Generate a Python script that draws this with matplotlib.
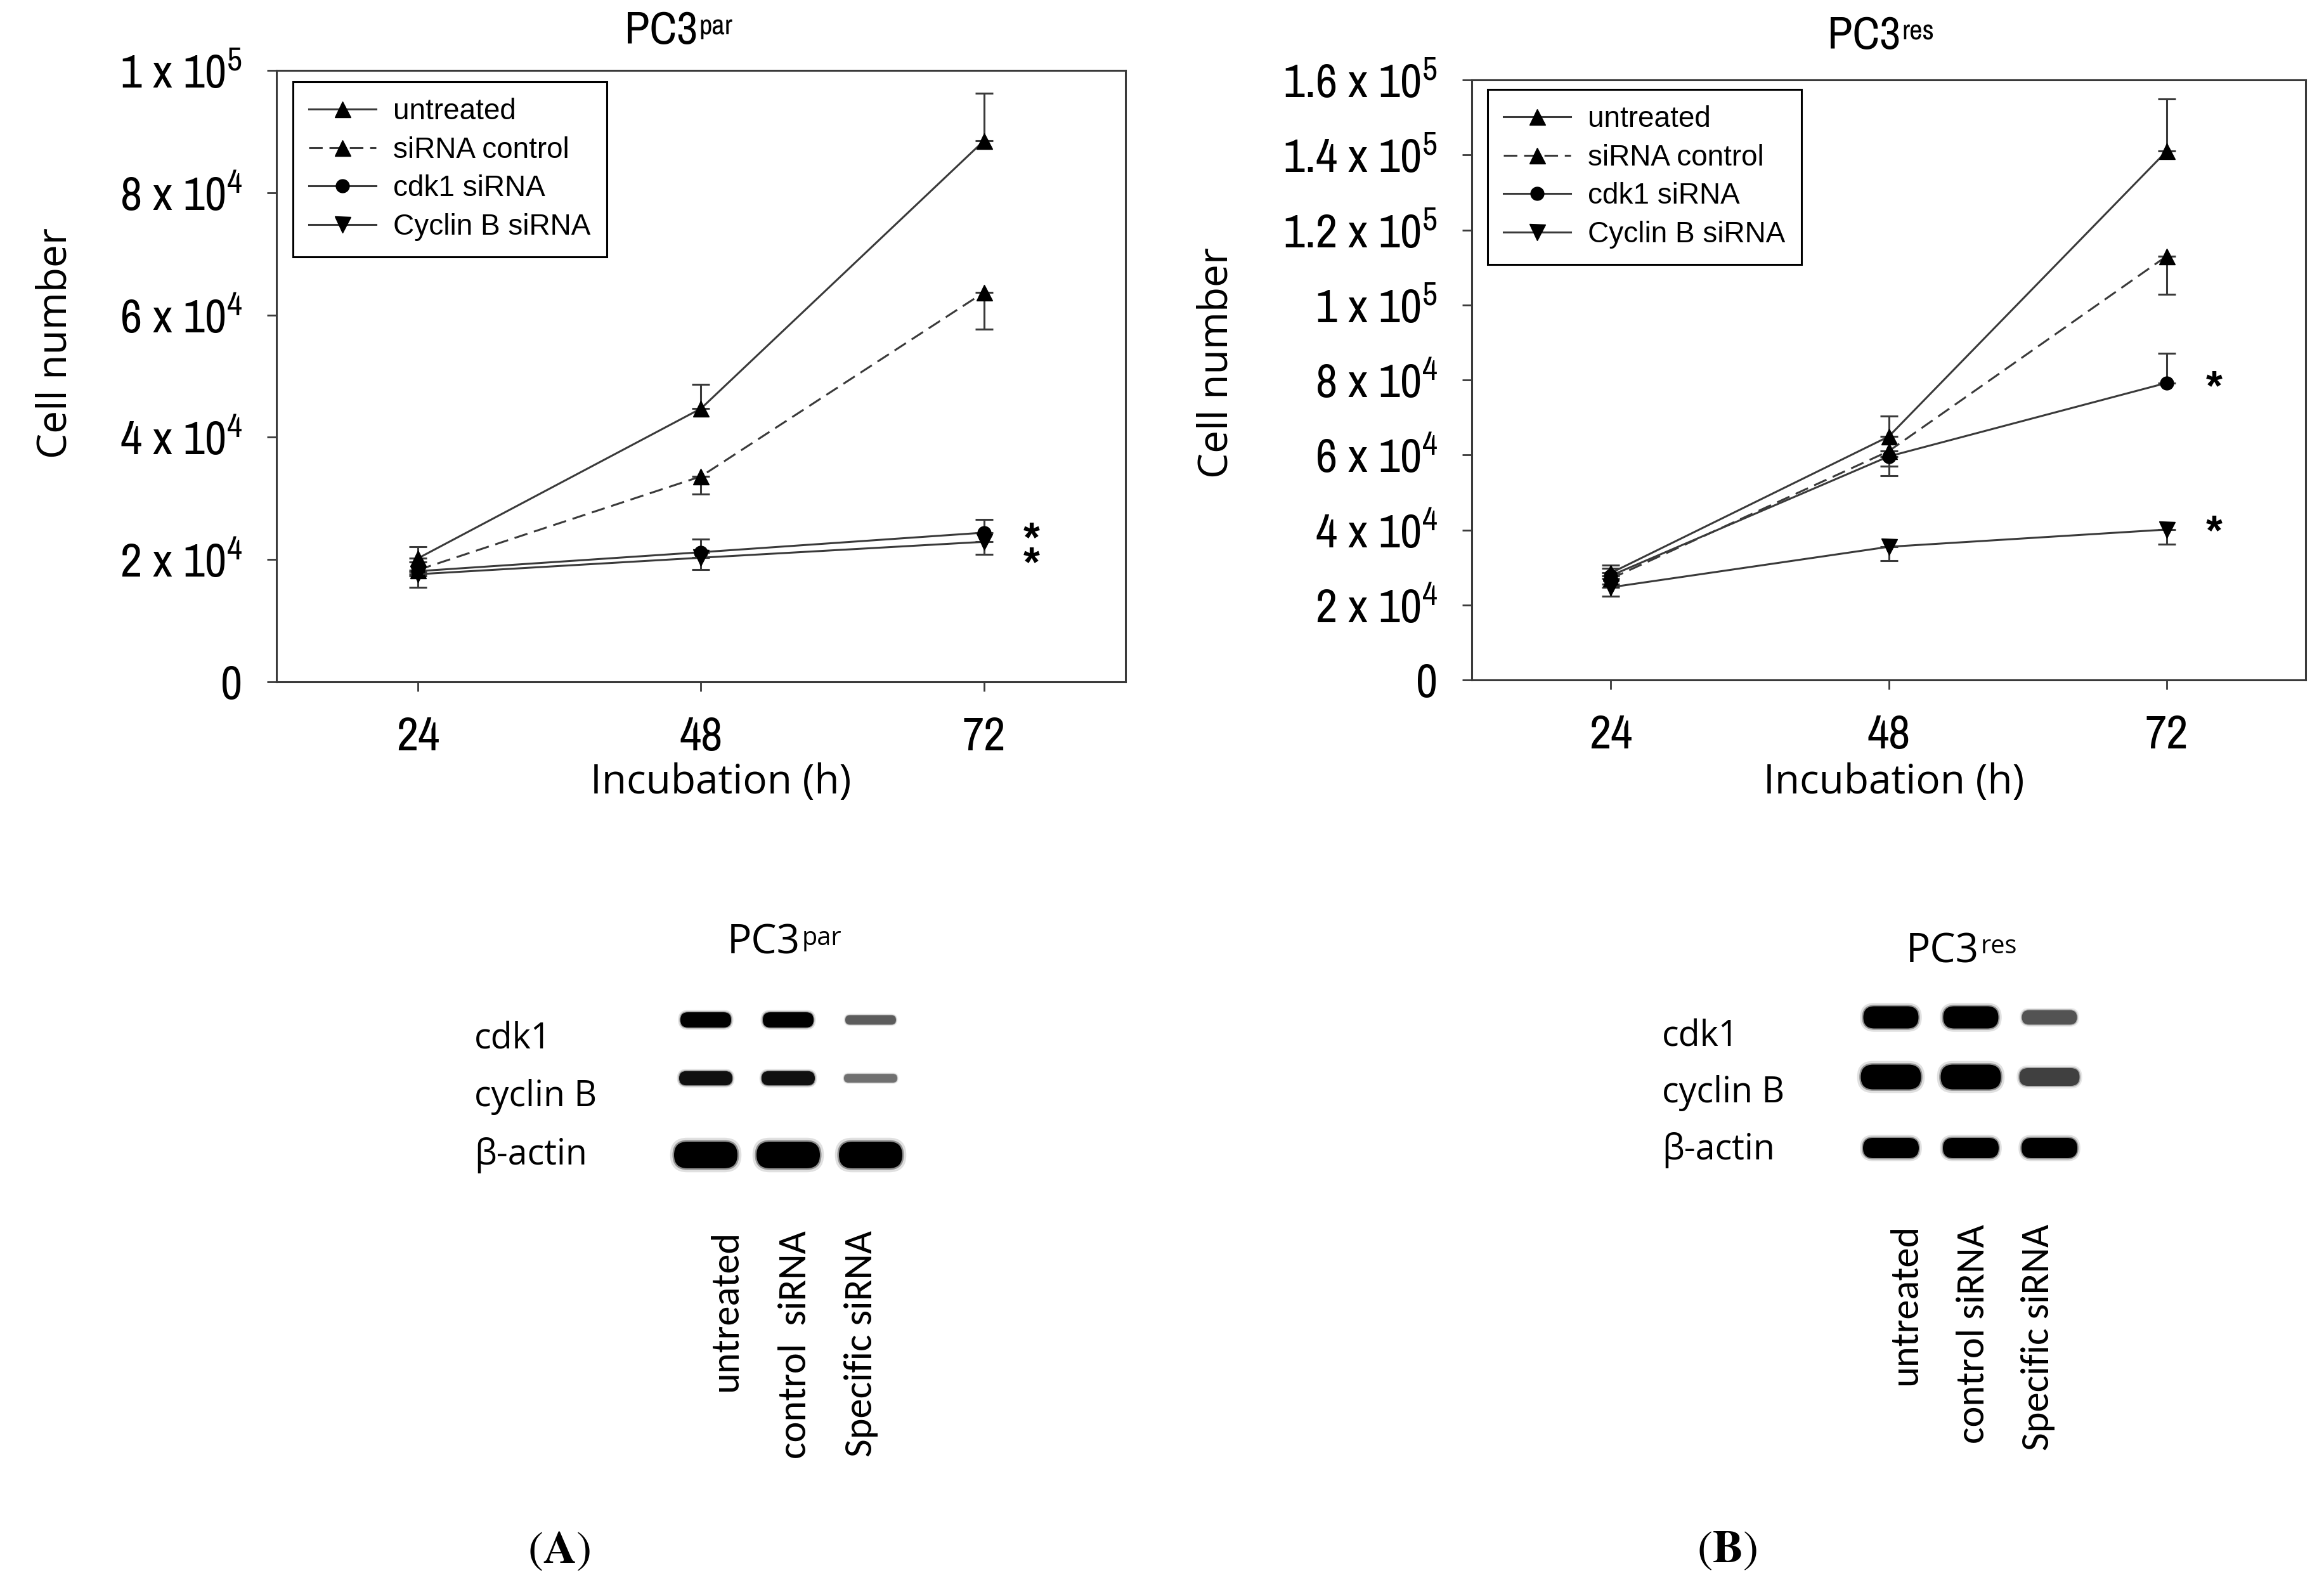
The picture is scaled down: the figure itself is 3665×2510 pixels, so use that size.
import matplotlib
matplotlib.use("Agg")
import matplotlib.pyplot as plt
from matplotlib import font_manager
from matplotlib.patches import FancyBboxPatch

## fonts (pick the closest installed faces)
names = {f.name for f in font_manager.fontManager.ttflist}
NARROW = "Archivo Narrow" if "Archivo Narrow" in names else "Liberation Sans"
TICK_SIZE = 54 if NARROW == "Archivo Narrow" else 46
TITLE_SIZE = 52 if NARROW == "Archivo Narrow" else 44
LANE_FONT, LANE_SIZE = ("Carlito", 45) if "Carlito" in names else ("Lato", 41)
plt.rcParams["mathtext.fontset"] = "custom"
plt.rcParams["mathtext.rm"] = NARROW
plt.rcParams["mathtext.it"] = NARROW + ":italic"
plt.rcParams["mathtext.bf"] = NARROW + ":bold"

## data
hours = [24, 48, 72]
series_labels = ["untreated", "siRNA control", "cdk1 siRNA", "Cyclin B siRNA"]

# PC3 par : mean, lower err, upper err
par_untreated = [2.02e4, 4.47e4, 8.85e4]
par_untreated_lo = [0, 0, 0]
par_untreated_hi = [0.19e4, 0.40e4, 0.78e4]
par_ctrl = [1.83e4, 3.36e4, 6.37e4]
par_ctrl_lo = [0.10e4, 0.29e4, 0.60e4]
par_ctrl_hi = [0, 0, 0]
par_cdk1 = [1.81e4, 2.12e4, 2.44e4]
par_cdk1_lo = [0, 0, 0]
par_cdk1_hi = [0.15e4, 0.21e4, 0.22e4]
par_cycb = [1.76e4, 2.03e4, 2.29e4]
par_cycb_lo = [0.21e4, 0.19e4, 0.21e4]
par_cycb_hi = [0, 0, 0]
par_star_y = [2.47e4, 2.12e4]

# PC3 res
res_untreated = [2.85e4, 6.49e4, 14.1e4]
res_untreated_lo = [0, 0, 0]
res_untreated_hi = [0.21e4, 0.54e4, 1.40e4]
res_ctrl = [2.70e4, 6.10e4, 11.3e4]
res_ctrl_lo = [0.15e4, 0.40e4, 1.02e4]
res_ctrl_hi = [0, 0, 0]
res_cdk1 = [2.78e4, 5.96e4, 7.92e4]
res_cdk1_lo = [0, 0.52e4, 0]
res_cdk1_hi = [0.20e4, 0, 0.79e4]
res_cycb = [2.47e4, 3.55e4, 4.01e4]
res_cycb_lo = [0.23e4, 0.37e4, 0.39e4]
res_cycb_hi = [0, 0, 0]
res_star_y = [8.1e4, 4.25e4]

par_yticks = [0, 2e4, 4e4, 6e4, 8e4, 1e5]
par_yticklabels = ["0", r"2 x 10$^4$", r"4 x 10$^4$", r"6 x 10$^4$", r"8 x 10$^4$", r"1 x 10$^5$"]
res_yticks = [0, 2e4, 4e4, 6e4, 8e4, 1e5, 1.2e5, 1.4e5, 1.6e5]
res_yticklabels = ["0", r"2 x 10$^4$", r"4 x 10$^4$", r"6 x 10$^4$", r"8 x 10$^4$",
                   r"1 x 10$^5$", r"1.2 x 10$^5$", r"1.4 x 10$^5$", r"1.6 x 10$^5$"]

# western blots: relative band density (rows x lanes)
blot_rows = ["cdk1", "cyclin B", "β-actin"]
par_lanes = ["untreated", "control  siRNA", "Specific siRNA"]
res_lanes = ["untreated", "control siRNA", "Specific siRNA"]
par_density = [[1.0, 1.0, 0.45],
               [0.85, 0.85, 0.35],
               [1.0, 1.0, 1.0]]
res_density = [[1.0, 1.0, 0.5],
               [1.0, 1.0, 0.6],
               [1.0, 1.0, 1.0]]

## layout (figure pixels)
W, H = 3666, 2510
LINE = "#3a3a3a"
markers = ["^", "^", "o", "v"]
styles = ["-", (0, (7, 3.5)), "-", "-"]

fig = plt.figure(figsize=(W / 100, H / 100), dpi=100)


def px_axes(left, top, right, bottom):
    return fig.add_axes([left / W, 1 - bottom / H, (right - left) / W, (bottom - top) / H])


def growth(ax, series, yticks, yticklabels, star_y, stacked_stars, legend_xy):
    for (vals, lo, hi), lab, mk, ls in zip(series, series_labels, markers, styles):
        ax.errorbar(hours, vals, yerr=[lo, hi], fmt="none", ecolor=LINE,
                    elinewidth=2.2, capsize=10, capthick=2.2, zorder=2)
        ax.plot(hours, vals, color=LINE, lw=2.2, ls=ls, marker=mk,
                ms=18 if mk != "o" else 15, mfc="black", mec="black", label=lab, zorder=3)
    ax.set_xlim(12, 84)
    ax.set_ylim(0, yticks[-1])
    ax.set_xticks(hours)
    ax.set_xticklabels([str(h) for h in hours], fontsize=TICK_SIZE, family=NARROW)
    ax.set_yticks(yticks)
    ax.set_yticklabels(yticklabels, fontsize=TICK_SIZE, family=NARROW)
    ax.tick_params(direction="out", length=11, width=2, color=LINE, pad=28)
    for s in ax.spines.values():
        s.set_linewidth(2.2)
        s.set_color(LINE)
    star_kw = dict(textcoords="offset points", ha="center", va="baseline", fontsize=48,
                   fontweight="bold", family="Liberation Sans")
    if stacked_stars:
        # two close stars as one text block, anchored on the lower one
        ax.annotate("\n".join("*" for _ in star_y), xy=(72, star_y[-1]), xytext=(54, -27),
                    linespacing=0.52, **star_kw)
    else:
        for y in star_y:
            ax.annotate("*", xy=(72, y), xytext=(54, -27), **star_kw)
    leg = ax.legend(loc="upper left", bbox_to_anchor=(legend_xy[0] / W, 1 - legend_xy[1] / H),
                    bbox_transform=fig.transFigure, borderaxespad=0, fancybox=False,
                    edgecolor="black", framealpha=1, prop={"family": "Liberation Sans", "size": 33},
                    handlelength=2.3, handletextpad=0.6, labelspacing=0.36, borderpad=0.55)
    leg.get_frame().set_linewidth(2.2)


ax1 = px_axes(436, 111, 1775, 1075)
growth(ax1, [(par_untreated, par_untreated_lo, par_untreated_hi),
             (par_ctrl, par_ctrl_lo, par_ctrl_hi),
             (par_cdk1, par_cdk1_lo, par_cdk1_hi),
             (par_cycb, par_cycb_lo, par_cycb_hi)],
       par_yticks, par_yticklabels, par_star_y, True, (462, 129))

ax2 = px_axes(2321, 126, 3636, 1072)
growth(ax2, [(res_untreated, res_untreated_lo, res_untreated_hi),
             (res_ctrl, res_ctrl_lo, res_ctrl_hi),
             (res_cdk1, res_cdk1_lo, res_cdk1_hi),
             (res_cycb, res_cycb_lo, res_cycb_hi)],
       res_yticks, res_yticklabels, res_star_y, False, (2346, 141))

## overlay in pixel coordinates for texts and blots
ov = fig.add_axes([0, 0, 1, 1])
ov.set_xlim(0, W)
ov.set_ylim(H, 0)
ov.axis("off")


def sup_title(x, y, base, sup, family, size):
    t = ov.text(x, y, base, ha="right", va="center", fontsize=size, family=family)
    ov.annotate(sup, xy=(1.02, 0.93), xycoords=t, ha="left", va="top",
                fontsize=size * 0.62, family=family)


sup_title(1100, 50, "PC3", "par", NARROW, TITLE_SIZE)
sup_title(2997, 58, "PC3", "res", NARROW, TITLE_SIZE)

for x, y in [(88, 541), (1919, 572)]:
    ov.text(x, y, "Cell number", rotation=90, ha="center", va="center",
            fontsize=46, family="Open Sans")
for x in [1137, 2987]:
    ov.text(x, 1234, "Incubation (h)", ha="center", va="center", fontsize=46, family="Open Sans")


def blot(density, lanes, lane_x, row_y, row_w, row_h, label_x, label_y, lane_label_x, top_y,
         title_xy, sup):
    for r, row in enumerate(density):
        for c, d in enumerate(row):
            h = row_h[r] * (0.3 + 0.7 * d)
            w = row_w[r]
            g = 1 - min(1.0, 0.3 + 0.75 * d)
            for grow, alpha in [(1.3, 0.12), (1.12, 0.35), (1.0, 1.0)]:
                hh, ww = h * grow, w + h * (grow - 1)
                ov.add_patch(FancyBboxPatch((lane_x[c] - ww / 2, row_y[r] - hh / 2), ww, hh,
                                            boxstyle="round,pad=0,rounding_size=%f" % (hh / 2),
                                            fc=str(g), ec="none", alpha=alpha))
    for lab, y in zip(blot_rows, label_y):
        ov.text(label_x, y, lab, ha="left", va="center", fontsize=40, family="Open Sans")
    for lab, x in zip(lanes, lane_label_x):
        ov.text(x, top_y, lab, rotation=90, ha="center", va="top", fontsize=LANE_SIZE,
                family=LANE_FONT)
    sup_title(title_xy[0], title_xy[1], "PC3", sup, "Open Sans", 46)


blot(par_density, par_lanes, [1113, 1243, 1373], [1608, 1700, 1821], [80, 84, 100], [24, 25, 42],
     748, [1639, 1730, 1821], [1145, 1254, 1358], 1940, (1262, 1487), "par")
blot(res_density, res_lanes, [2982, 3108, 3232], [1604, 1698, 1810], [87, 95, 88], [35, 39, 32],
     2621, [1635, 1723, 1814], [3005, 3112, 3214], 1930, (3121, 1500), "res")

for x, letter in [(881, "A"), (2723, "B")]:
    ov.text(x, 2447, r"($\mathbf{%s}$)" % letter, ha="center", va="center", fontsize=52,
            family="STIXGeneral", math_fontfamily="stix")

fig.savefig("out.png", dpi=100, facecolor="white")
